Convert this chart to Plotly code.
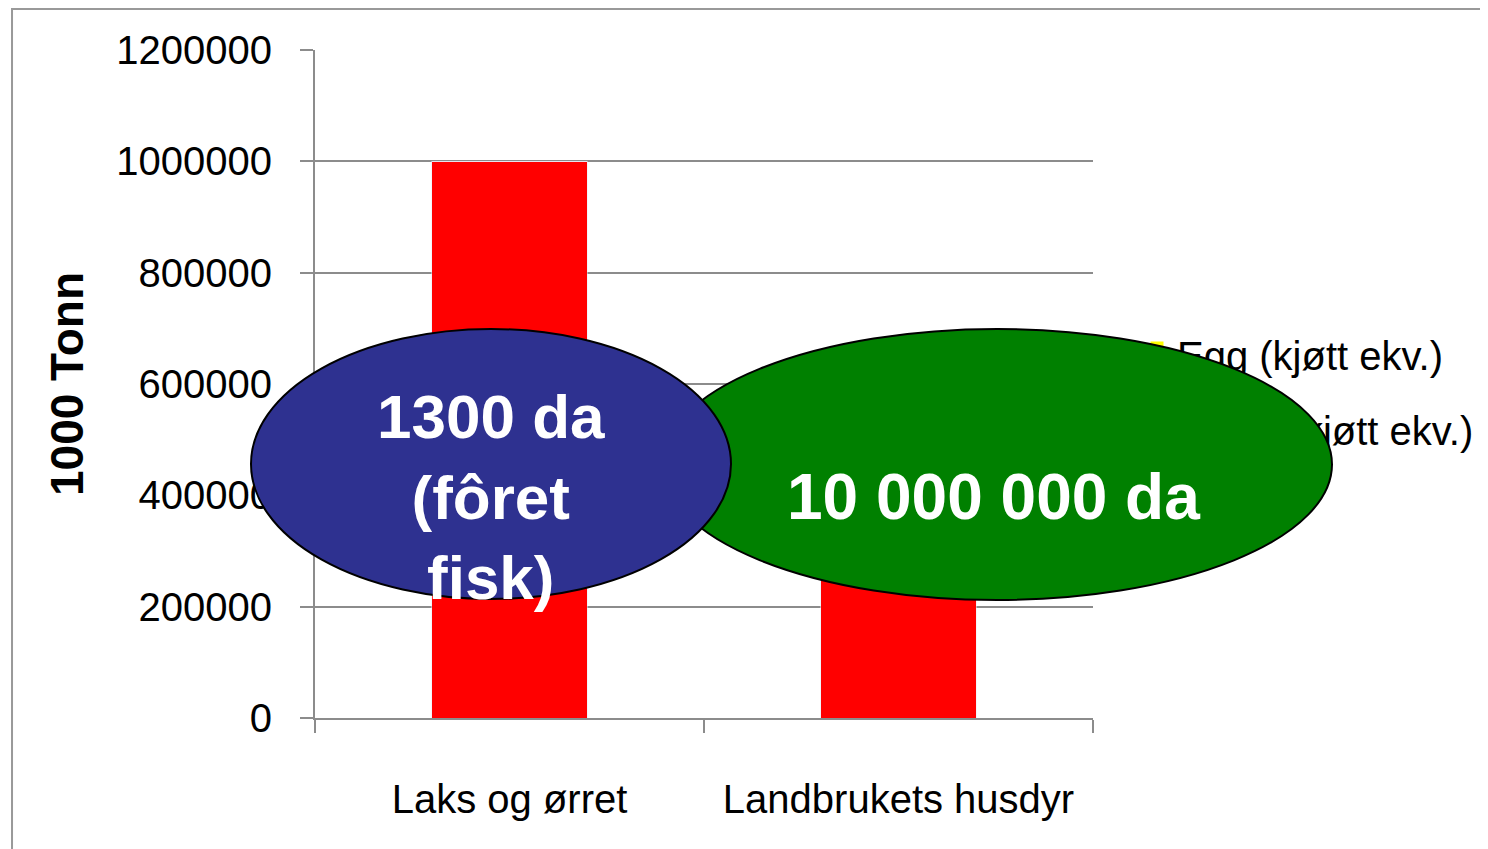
import plotly.graph_objects as go

categories = ["Laks og ørret", "Landbrukets husdyr"]
kjott = [1000000, 320000]
melk = [0, 180000]
egg = [0, 60000]
y_ticks = [0, 200000, 400000, 600000, 800000, 1000000, 1200000]
legend_names = ["Egg (kjøtt ekv.)", "Melk (kjøtt ekv.)"]
legend_colors = ["#FFFF00", "#4F81BD"]

font = "Liberation Sans, Arial, sans-serif"
gray = "#8c8c8c"

fig = go.Figure()
fig.add_trace(go.Bar(x=categories, y=kjott, name="Kjøtt", marker_color="#FF0000", showlegend=False))
fig.add_trace(go.Bar(x=categories, y=melk, name=legend_names[1], marker_color=legend_colors[1], showlegend=False))
fig.add_trace(go.Bar(x=categories, y=egg, name=legend_names[0], marker_color=legend_colors[0], showlegend=False))

# legend drawn on a full-page overlay subplot (screen-pixel units) so the ellipses can cover it
leg_mark_x = [1157, 1157]
leg_mark_y = [348, 424]
leg_text_x = [1177, 1194]
leg_text_y = [360, 435]
fig.add_trace(go.Scatter(x=leg_mark_x, y=leg_mark_y, mode="markers", xaxis="x2", yaxis="y2",
                         marker=dict(symbol="square", size=13, color=legend_colors, line=dict(width=0)),
                         showlegend=False, hoverinfo="skip"))
fig.add_trace(go.Scatter(x=leg_text_x, y=leg_text_y, mode="text", xaxis="x2", yaxis="y2",
                         text=legend_names, textposition="middle right",
                         textfont=dict(size=40, family=font, color="black"),
                         showlegend=False, hoverinfo="skip"))

fig.update_layout(
    width=1488, height=849,
    margin=dict(l=0, r=0, t=0, b=0, pad=0, autoexpand=False),
    paper_bgcolor="white", plot_bgcolor="rgba(0,0,0,0)",
    barmode="stack", bargap=0.6,
    font=dict(family=font, size=40, color="black"),
    showlegend=False,
    xaxis=dict(domain=[0.206317, 0.729167], anchor="y", automargin=False,
               showline=True, linecolor=gray, linewidth=2, ticks="outside",
               tickson="boundaries", ticklen=13, tickcolor=gray, tickwidth=2,
               tickfont=dict(size=40), ticklabelstandoff=45, showgrid=False),
    yaxis=dict(domain=[0.163722, 0.950530], anchor="x", automargin=False,
               range=[0, 1200000], tickvals=y_ticks, ticktext=[str(v) for v in y_ticks],
               showline=True, linecolor=gray, linewidth=2, ticks="outside",
               ticklen=13, tickcolor=gray, tickwidth=2, showgrid=True,
               gridcolor=gray, gridwidth=2, tickfont=dict(size=40),
               ticklabelstandoff=20, zeroline=False,
               title=dict(text="<b>1000 Tonn</b>", font=dict(size=46, family=font),
                          standoff=18)),
    xaxis2=dict(domain=[0, 1], anchor="y2", range=[8, 1496], visible=False,
                fixedrange=True, automargin=False),
    yaxis2=dict(domain=[0, 1], anchor="x2", range=[857, 8], visible=False,
                fixedrange=True, automargin=False),
)

# outer frame
fig.add_shape(type="rect", xref="paper", yref="paper", x0=0.0027, x1=1.5, y0=-0.5, y1=0.9988,
              line=dict(color="#999999", width=2), fillcolor="rgba(0,0,0,0)", layer="below")

# green ellipse
fig.add_shape(type="circle", xref="paper", yref="paper", x0=0.43952, x1=0.88978, y0=0.30271, y1=0.62191,
              fillcolor="#008000", line=dict(color="black", width=2), layer="above")
# blue ellipse
fig.add_shape(type="circle", xref="paper", yref="paper", x0=0.16331, x1=0.48589, y0=0.30389, y1=0.62191,
              fillcolor="#2E3190", line=dict(color="black", width=2), layer="above")

fig.add_annotation(xref="paper", yref="paper", x=0.3246, y=0.4240, text="<b>1300 da<br>(fôret<br>fisk)</b>",
                   showarrow=False, font=dict(size=62, color="white", family=font),
                   xanchor="center", yanchor="middle")
fig.add_annotation(xref="paper", yref="paper", x=0.6626, y=0.4240, text="<b>10 000 000 da</b>",
                   showarrow=False, font=dict(size=64, color="white", family=font),
                   xanchor="center", yanchor="middle")

fig.write_html("out.html")
